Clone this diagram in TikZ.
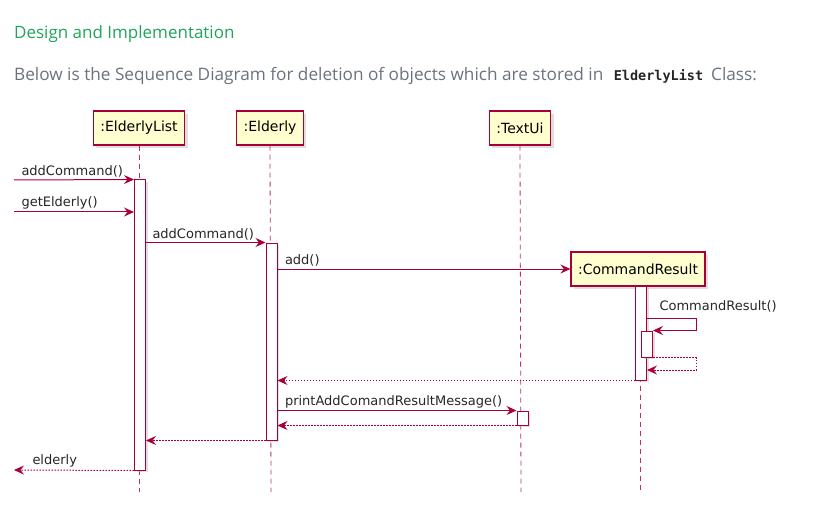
\documentclass[tikz,border=0pt]{standalone}
\usepackage{fontspec}
\setmainfont{Open Sans}
\setmonofont{DejaVu Sans Mono}
\newfontfamily\umlfont{DejaVu Sans}
\usetikzlibrary{arrows.meta, positioning, calc, shadows}
\definecolor{umlred}{HTML}{A80036}
\definecolor{umlfill}{HTML}{FEFECE}
\definecolor{headgreen}{HTML}{1FA55B}
\definecolor{bodygrey}{HTML}{6A737D}
\tikzset{
  part/.style={rectangle, draw=umlred, fill=umlfill, line width=1.2pt,
               minimum height=34pt, inner xsep=7pt, font=\umlfont\fontsize{14}{16}\selectfont,
               drop shadow={shadow xshift=3pt, shadow yshift=-3pt, fill=black!25}},
  actbar/.style={rectangle, draw=umlred, fill=white, line width=1pt,
                 minimum width=11pt, inner sep=0pt,
                 drop shadow={shadow xshift=2pt, shadow yshift=-2pt, fill=black!25}},
  life/.style={draw=umlred!80, dash pattern=on 5pt off 4pt, line width=0.8pt},
  msg/.style={-{Stealth[length=10pt, width=9pt, inset=3.5pt]}, draw=umlred, line width=1pt},
  ret/.style={msg, dash pattern=on 1.5pt off 1.5pt},
  mlbl/.style={font=\umlfont\fontsize{13}{15}\selectfont, inner sep=0pt, text=black!85},
}
\begin{document}
\begin{tikzpicture}[x=1pt, y=-1pt]
  \useasboundingbox (0,0) rectangle (820,532);

  % page text
  \node[anchor=base west, inner sep=0pt, text=headgreen, font=\fontsize{17}{19}\selectfont]
    (title) at (14,39) {Design and Implementation};
  \node[anchor=base west, inner sep=0pt, text=bodygrey, font=\fontsize{17.2}{19}\selectfont]
    (intro) at (14,81) {Below is the Sequence Diagram for deletion of objects which are stored in\hspace{6pt}
    {\color{black!85}\ttfamily\bfseries\fontsize{13.5}{15}\selectfont ElderlyList}\hspace{8pt}Class:};

  % participants
  \node[part] (pEL) at (139,128) {:ElderlyList};
  \node[part] (pE) at (270,128) {:Elderly};
  \node[part] (pT) at (520,128) {:TextUi};
  \node[part] (pCR) at (638,269) {:CommandResult};

  % lifelines
  \coordinate (endEL) at (139,492);
  \coordinate (endE) at (271,492);
  \coordinate (endT) at (521,492);
  \coordinate (endCR) at (640,492);
  \draw[life] (pEL.south) -- (endEL);
  \draw[life] (pE.south) -- (endE);
  \draw[life] (pT.south) -- (endT);
  \draw[life] (pCR.south -| endCR) -- (endCR);

  % activations
  \node[actbar, minimum height=290pt] (actEL) at (140,325) {};
  \node[actbar, minimum height=197pt] (actE) at (271.5,341.5) {};
  \node[actbar, minimum height=94pt] (actCR) at (641,333) {};
  \node[actbar, minimum height=26pt] (actCRn) at (647,344) {};
  \node[actbar, minimum height=14pt] (actT) at (522.5,418) {};

  % messages
  \coordinate (inA) at (14,180);
  \coordinate (inB) at (14,212);
  \coordinate (outA) at (14,470);
  \coordinate (selfA) at (696,318);
  \coordinate (selfB) at (696,370);

  \draw[msg] (inA) -- node[mlbl, pos=0, anchor=south west, xshift=7pt, yshift=2pt] {addCommand()} (actEL.north west);
  \draw[msg] (inB) -- node[mlbl, pos=0, anchor=south west, xshift=7pt, yshift=2pt] {getElderly()} (inB -| actEL.west);
  \draw[msg] (actE.north west -| actEL.east) -- node[mlbl, pos=0, anchor=south west, xshift=6pt, yshift=2pt] {addCommand()} (actE.north west);
  \draw[msg] (actE.east |- pCR.west) -- node[mlbl, pos=0, anchor=south west, xshift=7pt, yshift=2pt] {add()} (pCR.west);
  \draw[msg] (actCR.east |- selfA) -- node[mlbl, pos=0, anchor=south west, xshift=12pt, yshift=5pt] {CommandResult()} (selfA) -- (selfA |- actCRn.north) -- (actCRn.north east);
  \draw[ret] (actCRn.south east) -- (selfB |- actCRn.south) -- (selfB) -- (selfB -| actCR.east);
  \draw[ret] (actCR.south west) -- (actCR.south west -| actE.east);
  \draw[msg] (actT.north west -| actE.east) -- node[mlbl, pos=0, anchor=south west, xshift=7pt, yshift=2pt] {printAddComandResultMessage()} (actT.north west);
  \draw[ret] (actT.south west) -- (actT.south west -| actE.east);
  \draw[ret] (actE.south west) -- (actE.south west -| actEL.east);
  \draw[ret] (actEL.south west) -- node[mlbl, pos=1, anchor=south west, xshift=18pt, yshift=2pt] {elderly} (outA);
\end{tikzpicture}
\end{document}
